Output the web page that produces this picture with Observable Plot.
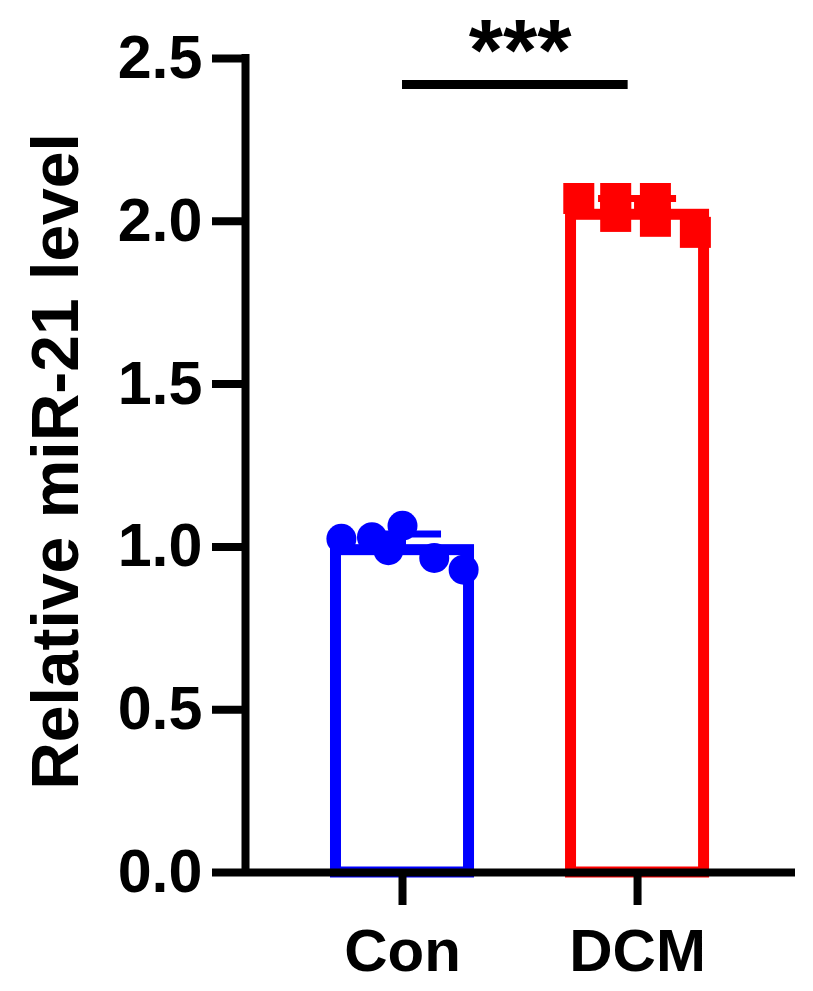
<!DOCTYPE html>
<html><head><meta charset="utf-8">
<script src="https://cdn.jsdelivr.net/npm/d3@7"></script>
<script src="https://cdn.jsdelivr.net/npm/@observablehq/plot@0.6"></script>
<style>body{margin:0;background:#fff;}</style>
</head><body><div id="chart"></div>
<script>
const groups = ["Con", "DCM"];
const groupColors = ["#0000ff", "#ff0000"];
const groupSymbols = ["circle", "square"];
const barMeans = [0.99, 2.02];
const barSD = [0.05, 0.05];
const conValues = [1.025, 1.03, 0.99, 1.065, 0.966, 0.93];
const conOffsets = [-0.26, -0.13, -0.06, 0.0, 0.135, 0.26];
const dcmValues = [2.07, 2.07, 2.015, 2.07, 2.0, 1.966];
const dcmOffsets = [-0.25, -0.093, -0.093, 0.076, 0.076, 0.246];
const yTicks = [0, 0.5, 1.0, 1.5, 2.0, 2.5];
const yLabel = "Relative miR-21 level";
const sigLabel = "***";
const sigFrom = 1, sigTo = 1.96, sigLevel = 2.42, sigTextLevel = 2.435;

const bars = groups.map((g, i) => ({group: g, x: i + 1, mean: barMeans[i], sd: barSD[i], color: groupColors[i]}));
const conPts = conValues.map((v, i) => ({x: 1 + conOffsets[i], y: v}));
const dcmPts = dcmValues.map((v, i) => ({x: 2 + dcmOffsets[i], y: v}));
const halfBar = 0.283, halfCap = 0.166;
const xDomain = [0.332, 2.672];

const chart = Plot.plot({
  width: 813, height: 991,
  marginTop: 58, marginBottom: 119, marginLeft: 245, marginRight: 18,
  x: {domain: xDomain},
  y: {domain: [0, 2.5]},
  color: {type: "identity"},
  style: {fontFamily: "'Liberation Sans', Arial, Helvetica, sans-serif", background: "white", overflow: "visible", color: "black"},
  marks: [
    Plot.rectY(bars, {x1: d => d.x - halfBar, x2: d => d.x + halfBar, y1: 0, y2: "mean", fill: "white", stroke: "color", strokeWidth: 11}),
    Plot.ruleX(bars, {x: "x", y1: "mean", y2: d => d.mean + d.sd, stroke: "color", strokeWidth: 7}),
    Plot.ruleY(bars, {y: d => d.mean + d.sd, x1: d => d.x - halfCap, x2: d => d.x + halfCap, stroke: "color", strokeWidth: 7}),
    Plot.dot(conPts, {x: "x", y: "y", r: 15, symbol: groupSymbols[0], fill: groupColors[0], stroke: "none"}),
    Plot.dot(dcmPts, {x: "x", y: "y", r: 17.5, symbol: groupSymbols[1], fill: groupColors[1], stroke: "none"}),
    Plot.ruleY([0], {strokeWidth: 8}),
    Plot.ruleX([xDomain[0]], {y1: 0, y2: 2.5, strokeWidth: 8, strokeLinecap: "square"}),
    Plot.axisY({ticks: yTicks, tickSize: 33, tickPadding: 10, strokeWidth: 8, fontSize: 61, fontWeight: "bold", tickFormat: d3.format(".1f"), label: null}),
    Plot.axisX({ticks: [1, 2], tickSize: 33, tickPadding: 23, strokeWidth: 8, fontSize: 60, fontWeight: "bold", tickFormat: d => groups[d - 1], label: null}),
    Plot.text([yLabel], {text: d => d, frameAnchor: "left", textAnchor: "middle", rotate: -90, dx: -189, dy: -4, fontSize: 66, fontWeight: "bold"}),
    Plot.ruleY([sigLevel], {x1: sigFrom, x2: sigTo, strokeWidth: 9}),
    Plot.text([sigLabel], {text: d => d, x: (sigFrom + 2) / 2, y: sigTextLevel, lineAnchor: "bottom", fontSize: 88, fontWeight: "bold"})
  ]
});
document.getElementById("chart").appendChild(chart);
</script>
</body></html>
